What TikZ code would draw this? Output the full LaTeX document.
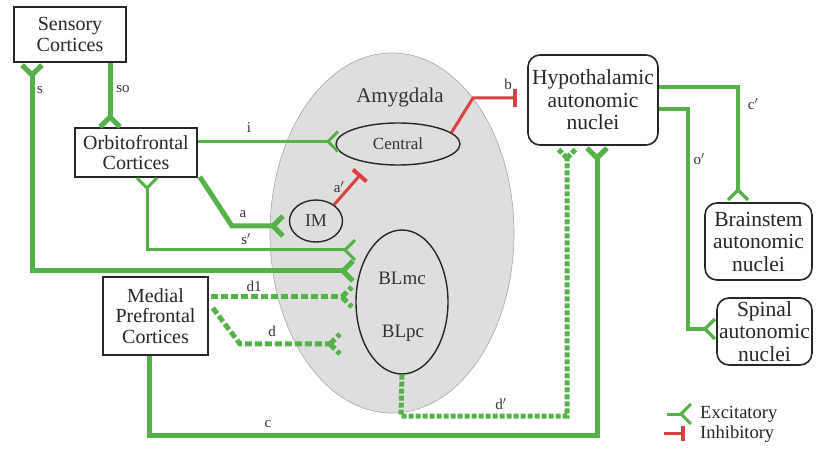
\documentclass[tikz,border=0pt]{standalone}
\usepackage{fontspec}
\setmainfont{LiberationSerif}[Extension=.ttf, UprightFont=*-Regular, BoldFont=*-Bold, ItalicFont=*-Italic, BoldItalicFont=*-BoldItalic]
\usetikzlibrary{arrows.meta,shapes.geometric}
\definecolor{exg}{RGB}{84,178,72}
\definecolor{inr}{RGB}{222,64,64}
\definecolor{amygfill}{RGB}{222,222,222}
\newcommand\excfork[3]{\draw[#3] (#1) -- ++(#2+45:14) (#1) -- ++(#2-45:14);}
\begin{document}
\begin{tikzpicture}[x=1pt,y=-1pt,
 box/.style={draw=black!85, line width=1.6pt, fill=white, align=center, inner sep=0pt, text=black!85, font=\fontsize{20}{20.5}\selectfont},
 rbox/.style={box, rounded corners=12pt, font=\fontsize{21.5}{22.5}\selectfont},
 nuc/.style={draw=black!85, ellipse, line width=1.4pt, inner sep=0pt, text=black!80},
 lab/.style={font=\fontsize{15}{15}\selectfont, inner sep=0pt, text=black!80},
 thk/.style={draw=exg, line width=5pt},
 thn/.style={draw=exg, line width=3pt},
 dsh/.style={thk, dash pattern=on 7pt off 3pt},
 dshb/.style={thk, dash pattern=on 5pt off 2pt},
 inh/.style={draw=inr, line width=3pt, -{Bar[width=18pt,line width=4pt]}},
 legtxt/.style={anchor=west, font=\fontsize{18.5}{18.5}\selectfont, text=black!85, inner sep=0pt},
]
\useasboundingbox (0,0) rectangle (817,462);
\fill[white] (0,0) rectangle (817,462);

% amygdala
\node[ellipse, minimum width=244pt, minimum height=360pt, fill=amygfill, draw=black!35, line width=0.6pt] (amyg) at (392,233) {};
\node[font=\fontsize{21}{21}\selectfont, text=black!80] (amylab) at (400,97) {Amygdala};

% boxes
\node[box, minimum width=112pt, minimum height=55pt] (sens) at (70,34.5) {Sensory\\Cortices};
\node[box, minimum width=122pt, minimum height=49pt] (orb) at (136,152.5) {Orbitofrontal\\Cortices};
\node[box, minimum width=105pt, minimum height=78pt] (med) at (155.5,316) {Medial\\Prefrontal\\Cortices};
\node[rbox, minimum width=130pt, minimum height=90pt] (hyp) at (593,100) {Hypothalamic\\autonomic\\nuclei};
\node[rbox, minimum width=107pt, minimum height=77pt] (brain) at (758.5,241.5) {Brainstem\\autonomic\\nuclei};
\node[rbox, minimum width=95pt, minimum height=67pt] (spin) at (764.5,331.5) {Spinal\\autonomic\\nuclei};

% nuclei
\node[nuc, minimum width=124pt, minimum height=42pt, font=\fontsize{17}{17}\selectfont] (cen) at (398,144) {Central};
\node[nuc, minimum width=53pt, minimum height=42pt, font=\fontsize{18}{18}\selectfont] (im) at (316,221) {IM};
\node[nuc, minimum width=92pt, minimum height=144pt] (bl) at (402,302) {};
\node[font=\fontsize{19}{19}\selectfont, text=black!80] (blmc) at (402,278) {BLmc};
\node[font=\fontsize{19}{19}\selectfont, text=black!80] (blpc) at (403,333) {BLpc};

% coordinates
\coordinate (sox) at (110,0);
\coordinate (cx) at (149,0);
\coordinate (sv) at (32,75);
\coordinate (sbl) at (343,271);
\coordinate (sov) at (110,117);
\coordinate (iy) at (0,141.5);
\coordinate (iv) at (328,141.5);
\coordinate (av) at (273,226);
\coordinate (spv) at (147,188);
\coordinate (spbl) at (345,250);
\coordinate (d1y) at (0,297);
\coordinate (d1v) at (342,297);
\coordinate (dv) at (330,344);
\coordinate (cv) at (597,158);
\coordinate (dpv) at (567,158);
\coordinate (cpy) at (0,87);
\coordinate (cpv) at (738,190);
\coordinate (opy) at (0,109);
\coordinate (opv) at (705,329);
\coordinate (bend) at (517,98);

% s
\draw[thk] (sv) |- (sbl);
\excfork{sv}{270}{thk}
\excfork{sbl}{0}{thk}
% so
\draw[thk] (sens.south -| sox) -- (sov);
\excfork{sov}{90}{thk}
% i
\draw[thn] (orb.east |- iy) -- (iv);
\excfork{iv}{0}{thn}
% a
\draw[thk] (orb.south east) ++(2,-1) -- (232,226) -- (av);
\excfork{av}{0}{thk}
% s'
\draw[thn] (spv) |- (spbl);
\excfork{spv}{270}{thn}
\excfork{spbl}{0}{thn}
% d1
\draw[dsh] (med.east |- d1y) ++(2,0) -- (d1v);
\excfork{d1v}{0}{dsh}
% d
\draw[dsh] (med.east) ++(4,-8) -- (240,344) -- (dv);
\excfork{dv}{0}{dsh}
% c
\draw[thk] (med.south -| cx) -- (149,435) -| (cv);
\excfork{cv}{270}{thk}
% d'
\draw[dshb] (bl.south) -- (401,416) -| (dpv);
\excfork{dpv}{270}{dshb}
% c'
\draw[thn, line width=3.5pt] (hyp.east |- cpy) -| (cpv);
\excfork{cpv}{90}{thn, line width=3.5pt}
% o'
\draw[thn, line width=3.5pt] (hyp.east |- opy) -- (688,109) |- (opv);
\excfork{opv}{0}{thn, line width=3.5pt}
% inhibitory
\draw[inh] (cen.12) -- (473,98) -- (bend);
\draw[inh] (im.42) -- (361,174);

% labels
\node[lab] (ls) at (40,90) {s};
\node[lab] (lso) at (123,89) {so};
\node[lab] (li) at (249,128) {i};
\node[lab] (la) at (243,214) {a};
\node[lab] (lsp) at (246,239) {s$'$};
\node[lab] (ld1) at (254,286) {d1};
\node[lab] (ld) at (272,331) {d};
\node[lab] (lc) at (268,424) {c};
\node[lab] (ldp) at (501,404) {d$'$};
\node[lab] (lb) at (508,84) {b};
\node[lab] (lap) at (339,187) {a$'$};
\node[lab] (lcp) at (753,104) {c$'$};
\node[lab] (lop) at (699,159) {o$'$};

% legend
\coordinate (exv) at (681,414);
\draw[thn] (667,414) -- (exv);
\excfork{exv}{0}{thn}
\node[legtxt] (lexc) at (700,414) {Excitatory};
\draw[draw=inr, line width=3pt, -{Bar[width=15pt,line width=4pt]}] (664,433) -- (685,433);
\node[legtxt] (linh) at (700,434) {Inhibitory};
\end{tikzpicture}
\end{document}
